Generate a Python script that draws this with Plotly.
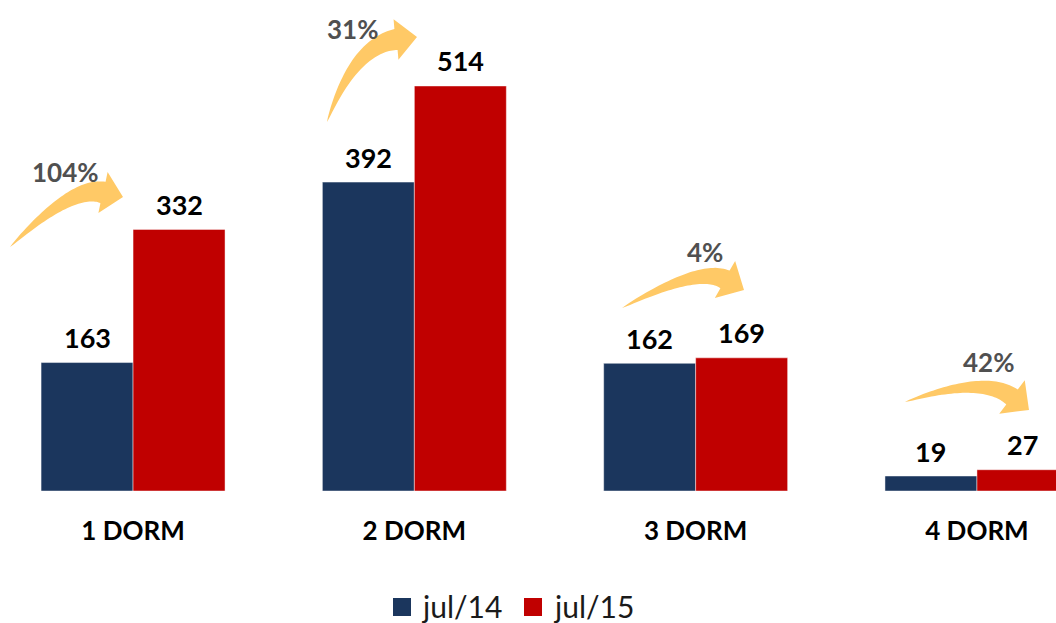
import math
import plotly.graph_objects as go

# ---------------- data ----------------
categories = ["1 DORM", "2 DORM", "3 DORM", "4 DORM"]
series_names = ["jul/14", "jul/15"]
jul14 = [163, 392, 162, 19]
jul15 = [332, 514, 169, 27]
colors = ["#1B365D", "#C00000"]

growth_labels = [f"{round((b / a - 1) * 100)}%" for a, b in zip(jul14, jul15)]

W, H = 1056, 623
MB = 132                      # bottom margin -> plot area height 491
PLOT_H = H - MB

fig = go.Figure()
for name, vals, col in zip(series_names, [jul14, jul15], colors):
    fig.add_trace(go.Bar(
        x=categories, y=vals, name=name, showlegend=False,
        marker=dict(color=col, line=dict(color="rgba(255,255,255,0.45)", width=1)),
        hoverinfo="x+y",
    ))

# value labels above bars
annotations = []
off = 0.1636
for vals, sign in [(jul14, -1), (jul15, 1)]:
    for i, v in enumerate(vals):
        annotations.append(dict(
            x=i + sign * off, y=v, xref="x", yref="y", text=f"<b>{v}</b>",
            showarrow=False, yanchor="middle", yshift=25,
            font=dict(family="Lato", size=27, color="#000000"),
        ))


def px2paper(px, py):
    return px / W, (PLOT_H - py) / PLOT_H


# ---------------- growth arrows (decoration, pixel geometry) ----------------
arrows = [
    # tail, control, head base, tip, head width, shaft width
    dict(T=(10, 247), C=(72, 185), B=(103, 192.5), tip=(123, 197), hw=42, sw=22),
    dict(T=(327, 122), C=(354, 46), B=(396, 39.5), tip=(417, 37), hw=41, sw=21),
    dict(T=(622, 308), C=(699, 266), B=(725, 279.5), tip=(744, 290), hw=42, sw=20),
    dict(T=(905, 402), C=(983, 375), B=(1012, 397), tip=(1029, 410), hw=42, sw=19),
]
pct_pos = [(65, 172), (352, 29), (705, 252), (988, 362)]

shapes = []
for a in arrows:
    T, C, B, tip = a["T"], a["C"], a["B"], a["tip"]
    N = 40
    up, lo = [], []
    for k in range(N + 1):
        t = k / N
        x = (1 - t) ** 2 * T[0] + 2 * t * (1 - t) * C[0] + t ** 2 * B[0]
        y = (1 - t) ** 2 * T[1] + 2 * t * (1 - t) * C[1] + t ** 2 * B[1]
        dx = 2 * (1 - t) * (C[0] - T[0]) + 2 * t * (B[0] - C[0])
        dy = 2 * (1 - t) * (C[1] - T[1]) + 2 * t * (B[1] - C[1])
        L = math.hypot(dx, dy)
        nx, ny = -dy / L, dx / L
        w = a["sw"] * (t ** 0.75) / 2
        up.append((x + nx * w, y + ny * w))
        lo.append((x - nx * w, y - ny * w))
    hx, hy = tip[0] - B[0], tip[1] - B[1]
    L = math.hypot(hx, hy)
    nx, ny = -hy / L, hx / L
    h1 = (B[0] + nx * a["hw"] / 2, B[1] + ny * a["hw"] / 2)
    h2 = (B[0] - nx * a["hw"] / 2, B[1] - ny * a["hw"] / 2)
    pts = up + [h1, tip, h2] + lo[::-1]
    path = "M " + " L ".join(f"{px2paper(*p)[0]:.5f},{px2paper(*p)[1]:.5f}" for p in pts) + " Z"
    shapes.append(dict(type="path", path=path, xref="paper", yref="paper",
                       fillcolor="#FFC966", line=dict(width=0), layer="above"))

for lab, (px, py) in zip(growth_labels, pct_pos):
    x, y = px2paper(px, py)
    annotations.append(dict(
        x=x, y=y, xref="paper", yref="paper", text=f"<b>{lab}</b>", showarrow=False,
        xanchor="center", yanchor="middle",
        font=dict(family="Lato", size=26, color="#505050", weight="bold"),
    ))

# ---------------- legend (drawn manually for exact placement) ----------------
legend_items = [(393, 419), (524, 551)]   # swatch left, text left (px)
for (sx, tx), name, col in zip(legend_items, series_names, colors):
    x0, y0 = px2paper(sx, 616)
    x1, y1 = px2paper(sx + 18, 598)
    shapes.append(dict(type="rect", xref="paper", yref="paper", x0=x0, y0=y0, x1=x1, y1=y1,
                       fillcolor=col, line=dict(width=0)))
    lx, ly = px2paper(tx, 606)
    annotations.append(dict(
        x=lx, y=ly, xref="paper", yref="paper", text=name, showarrow=False,
        xanchor="left", yanchor="middle",
        font=dict(family="Lato", size=30, color="#1a1a1a"),
    ))

fig.update_layout(
    width=W, height=H,
    margin=dict(l=0, r=0, t=0, b=MB),
    paper_bgcolor="white", plot_bgcolor="white",
    barmode="group", bargap=0.346, bargroupgap=0,
    showlegend=False,
    xaxis=dict(range=[-0.473, 3.281], showgrid=False, zeroline=False, showline=False,
               ticks="", ticklabelstandoff=22,
               tickfont=dict(family="Lato", size=26, color="#000000", weight="bold")),
    yaxis=dict(range=[0, 623.1], visible=False, showgrid=False, zeroline=False),
    shapes=shapes, annotations=annotations,
    font=dict(family="Lato"),
)

fig.write_html("out.html", config={"displayModeBar": False},
               post_script="document.body.style.margin='0';document.body.style.overflow='hidden';")
